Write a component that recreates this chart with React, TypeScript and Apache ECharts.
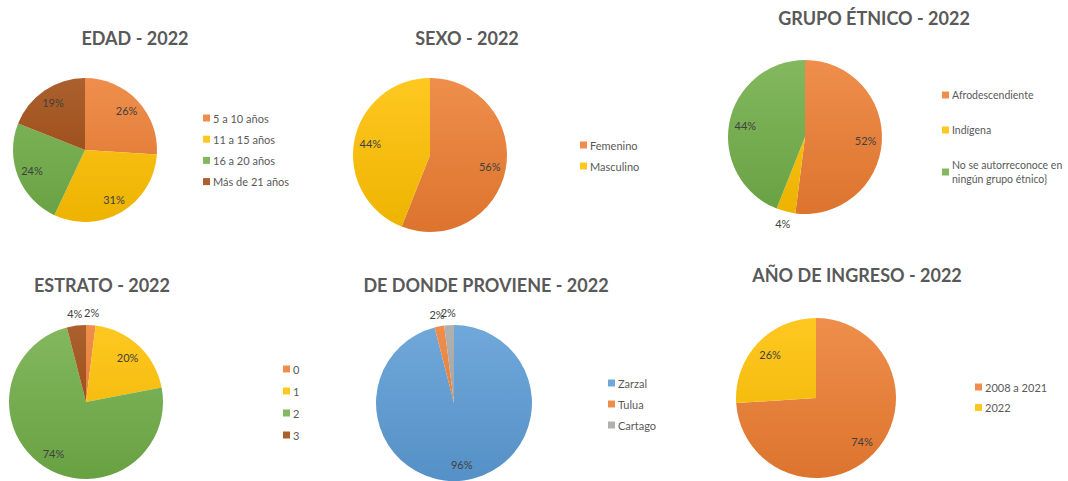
import React, { useEffect, useRef } from "react";
import * as echarts from "echarts";

// ---------- data ----------
const edadNames = ["5 a 10 años", "11 a 15 años", "16 a 20 años", "Más de 21 años"];
const edadValues = [26, 31, 24, 19];

const sexoNames = ["Femenino", "Masculino"];
const sexoValues = [56, 44];

const etnicoNames = ["Afrodescendiente", "Indígena", "No se autorreconoce en\nningún grupo étnico}"];
const etnicoValues = [52, 4, 44];

const estratoNames = ["0", "1", "2", "3"];
const estratoValues = [2, 20, 74, 4];

const procedenciaNames = ["Zarzal", "Tulua", "Cartago"];
const procedenciaValues = [96, 2, 2];

const ingresoNames = ["2008 a 2021", "2022"];
const ingresoValues = [74, 26];

// ---------- styles ----------
const ORANGE = "#ED7D31";
const YELLOW = "#FFC000";
const GREEN = "#70AD47";
const BROWN = "#9E480E";
const BLUE = "#5B9BD5";
const GRAY = "#A5A5A5";

const FONT = "Lato, 'Open Sans', sans-serif";

function shade(hex: string, amt: number): string {
  const n = parseInt(hex.slice(1), 16);
  let r = (n >> 16) & 255, g = (n >> 8) & 255, b = n & 255;
  if (amt >= 0) {
    r = r + (255 - r) * amt; g = g + (255 - g) * amt; b = b + (255 - b) * amt;
  } else {
    r = r * (1 + amt); g = g * (1 + amt); b = b * (1 + amt);
  }
  return `rgb(${Math.round(r)},${Math.round(g)},${Math.round(b)})`;
}

type PieCfg = {
  title: string; names: string[]; values: number[]; colors: string[];
  cx: number; cy: number; r: number;
  tx: number; ty: number;
  lx: number; ly: number; gap: number; lfs: number;
};

const pies: PieCfg[] = [
  { title: "EDAD - 2022", names: edadNames, values: edadValues, colors: [ORANGE, YELLOW, GREEN, BROWN],
    cx: 85, cy: 150, r: 72, tx: 135, ty: 38, lx: 203, ly: 111, gap: 7.2, lfs: 11 },
  { title: "SEXO - 2022", names: sexoNames, values: sexoValues, colors: [ORANGE, YELLOW],
    cx: 430, cy: 155, r: 77, tx: 467, ty: 38, lx: 580, ly: 138, gap: 7, lfs: 11 },
  { title: "GRUPO ÉTNICO - 2022", names: etnicoNames, values: etnicoValues, colors: [ORANGE, YELLOW, GREEN],
    cx: 805, cy: 137, r: 77, tx: 874, ty: 18, lx: 942, ly: 88, gap: 21, lfs: 10.5 },
  { title: "ESTRATO - 2022", names: estratoNames, values: estratoValues, colors: [ORANGE, YELLOW, GREEN, BROWN],
    cx: 86, cy: 402, r: 77, tx: 102, ty: 285, lx: 283, ly: 362, gap: 8, lfs: 11 },
  { title: "DE DONDE PROVIENE - 2022", names: procedenciaNames, values: procedenciaValues, colors: [BLUE, ORANGE, GRAY],
    cx: 454, cy: 403, r: 78, tx: 486, ty: 285, lx: 608, ly: 376, gap: 7, lfs: 11 },
  { title: "AÑO DE INGRESO - 2022", names: ingresoNames, values: ingresoValues, colors: [ORANGE, YELLOW],
    cx: 816, cy: 398, r: 80, tx: 857, ty: 275, lx: 975, ly: 380, gap: 6.5, lfs: 11 },
];

function buildOption() {
  const title: any[] = [];
  const legend: any[] = [];
  const series: any[] = [];
  const labelStyle = { color: "#404040", fontSize: 11, fontFamily: FONT };

  pies.forEach((p) => {
    title.push({
      text: p.title, left: p.tx, top: p.ty, textAlign: "center", textVerticalAlign: "middle", padding: 0,
      textStyle: { fontSize: 18, fontWeight: "bold", color: "#595959", fontFamily: FONT },
    });
    legend.push({
      data: p.names, left: p.lx, top: p.ly, orient: "vertical", icon: "rect",
      itemWidth: 7, itemHeight: 7, itemGap: p.gap, padding: 0, selectedMode: false,
      textStyle: { fontSize: p.lfs, color: "#595959", fontFamily: FONT, lineHeight: 14, padding: [0, 0, 0, -2] },
    });
    const base = {
      type: "pie", center: [p.cx, p.cy], startAngle: 90, clockwise: true,
      avoidLabelOverlap: false, labelLine: { show: false }, emphasis: { disabled: true },
      labelLayout: { hideOverlap: false },
    };
    series.push({
      ...base,
      radius: [0, p.r],
      label: { show: false },
      data: p.names.map((n, i) => ({
        name: n, value: p.values[i],
        itemStyle: {
          color: new echarts.graphic.LinearGradient(0, p.cy - p.r, 0, p.cy + p.r, [
            { offset: 0, color: shade(p.colors[i], 0.13) },
            { offset: 1, color: shade(p.colors[i], -0.07) },
          ], true),
        },
      })),
    });
    // inner labels
    series.push({
      ...base, silent: true, legendHoverLink: false,
      radius: [p.r * 0.5, p.r],
      itemStyle: { color: "rgba(0,0,0,0)" },
      label: { position: "inside", formatter: "{c}%", ...labelStyle },
      data: p.names.map((n, i) => ({ name: n, value: p.values[i], label: { show: p.values[i] >= 5 } })),
    });
    // outer labels for small slices
    series.push({
      ...base, silent: true, legendHoverLink: false,
      radius: [p.r, p.r * 1.24],
      itemStyle: { color: "rgba(0,0,0,0)" },
      label: { position: "inside", formatter: "{c}%", ...labelStyle },
      data: p.names.map((n, i) => ({ name: n, value: p.values[i], label: { show: p.values[i] < 5 } })),
    });
  });

  return { animation: false, backgroundColor: "#ffffff", title, legend, series };
}

export default function App() {
  const ref = useRef<HTMLDivElement>(null);
  useEffect(() => {
    document.body.style.margin = "0";
    if (!ref.current) return;
    const chart = echarts.init(ref.current, undefined, { renderer: "svg" });
    chart.setOption(buildOption() as any);
    return () => chart.dispose();
  }, []);
  return <div ref={ref} style={{ width: 1068, height: 481 }} />;
}
